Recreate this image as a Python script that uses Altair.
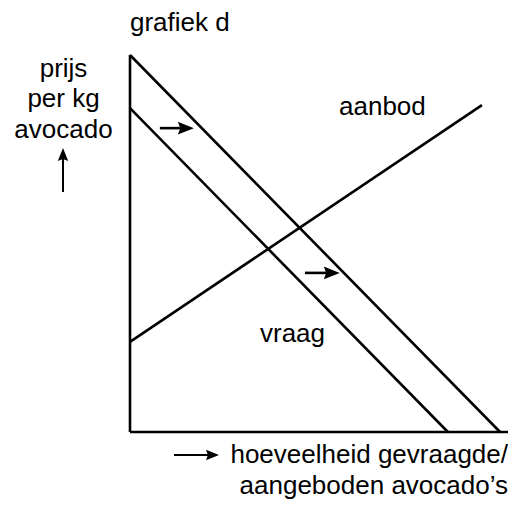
import altair as alt
import pandas as pd

# Economic units: quantity (0-100) and price per kg (0-100)
vraag1_q = [0, 84.1]
vraag1_p = [85.9, 0]
vraag2_q = [0, 97.9]
vraag2_p = [100, 0]
aanbod_q = [0, 93.1]
aanbod_p = [23.9, 86.7]
as_x_q = [0, 100]
as_x_p = [0, 0]
as_y_q = [0, 0]
as_y_p = [0, 100]
shift_p = [80.6, 42.2]
shift_q0 = [7.9, 46.3]
shift_q1 = [16.9, 55.5]

W, H = 500, 492
PX_X, PX_Y = 3.78, 3.77
qmin = -122 / PX_X
qmax = qmin + W / PX_X
pmax = 424 / PX_Y
pmin = pmax - H / PX_Y

xs = alt.Scale(domain=[qmin, qmax], nice=False, zero=False)
ys = alt.Scale(domain=[pmin, pmax], nice=False, zero=False)
X = lambda f: alt.X(f, type="quantitative", scale=xs, axis=None)
Y = lambda f: alt.Y(f, type="quantitative", scale=ys, axis=None)

lines = pd.DataFrame({
    "q": vraag1_q + vraag2_q + aanbod_q + as_x_q + as_y_q,
    "p": vraag1_p + vraag2_p + aanbod_p + as_x_p + as_y_p,
    "s": ["v1"] * 2 + ["v2"] * 2 + ["a"] * 2 + ["ax"] * 2 + ["ay"] * 2,
})

line_layer = alt.Chart(lines).mark_line(color="black", strokeWidth=2.6).encode(
    x=X("q"), y=Y("p"), detail="s:N"
)

arrows = pd.DataFrame({"p": shift_p, "q0": shift_q0, "q1": shift_q1})
arrows["qs"] = arrows["q1"] - 8 / PX_X

shafts = alt.Chart(arrows).mark_rule(color="black", strokeWidth=2.6).encode(
    x=X("q0"), x2="qs", y=Y("p")
)
RIGHT_HEAD = "M0,0L-1,-0.4L-0.85,0L-1,0.4Z"
UP_HEAD = "M0,0L-0.4,1L0,0.85L0.4,1Z"
heads = alt.Chart(arrows).mark_point(
    shape=RIGHT_HEAD, filled=True, color="black", size=4 * 16 * 16, opacity=1, strokeWidth=0
).encode(x=X("q1"), y=Y("p"))

# annotation arrows (outside plot)
up_shaft = alt.Chart(pd.DataFrame({"a": [0]})).mark_rule(color="black", strokeWidth=2).encode(
    x=alt.value(55), y=alt.value(148), y2=alt.value(184)
)
up_head = alt.Chart(pd.DataFrame({"a": [0]})).mark_point(
    shape=UP_HEAD, filled=True, color="black", size=4 * 13 * 13, opacity=1, strokeWidth=0
).encode(x=alt.value(55), y=alt.value(140))
bot_shaft = alt.Chart(pd.DataFrame({"a": [0]})).mark_rule(color="black", strokeWidth=2).encode(
    x=alt.value(166), x2=alt.value(204), y=alt.value(447)
)
bot_head = alt.Chart(pd.DataFrame({"a": [0]})).mark_point(
    shape=RIGHT_HEAD, filled=True, color="black", size=4 * 13 * 13, opacity=1, strokeWidth=0
).encode(x=alt.value(211), y=alt.value(447))

FONT = "Liberation Sans"


def txt(s, x, y, align="left"):
    return alt.Chart(pd.DataFrame({"t": [s]})).mark_text(
        font=FONT, fontSize=26, align=align, baseline="alphabetic", color="black"
    ).encode(text="t:N", x=alt.value(x), y=alt.value(y))


texts = [
    txt("grafiek d", 122, 23),
    txt("prijs", 55.5, 69, "center"),
    txt("per kg", 55.5, 99, "center"),
    txt("avocado", 55.5, 130, "center"),
    txt("aanbod", 331, 107),
    txt("vraag", 252, 334),
    txt("hoeveelheid gevraagde/", 500, 455, "right"),
    txt("aangeboden avocado\u2019s", 500, 486, "right"),
]

chart = alt.layer(
    line_layer, shafts, heads, up_shaft, up_head, bot_shaft, bot_head, *texts
).properties(
    width=W, height=H, autosize=alt.AutoSizeParams(type="none"), padding=0,
    background="white"
).configure_view(stroke=None)

chart.save("out.html", embed_options={"renderer": "svg", "actions": False})
